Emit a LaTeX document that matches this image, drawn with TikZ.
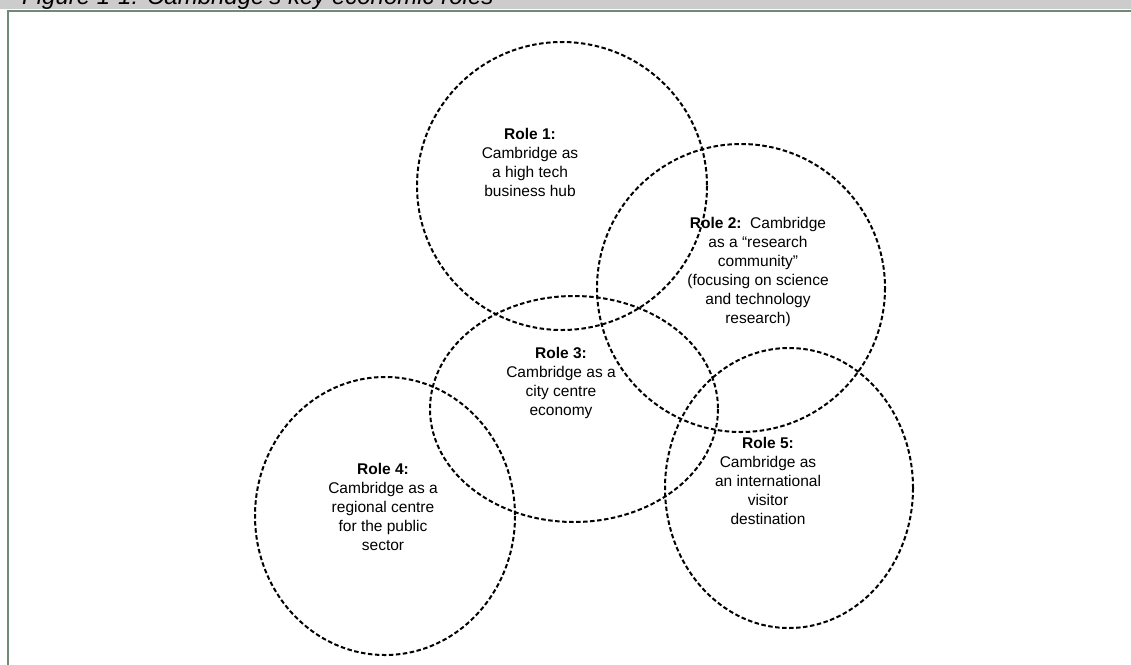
\documentclass[tikz,border=0pt]{standalone}
\usepackage{fontspec}
\setmainfont{Liberation Sans}
\tikzset{
  rolecirc/.style={draw=black,line width=2pt,dash pattern=on 4.5pt off 2.5pt},
  roletext/.style={align=center,font=\fontsize{15.5}{19}\selectfont},
}
\begin{document}
\begin{tikzpicture}[x=1pt,y=-1pt]
        \useasboundingbox (0,0) rectangle (1131,664);
        \clip (0,0) rectangle (1131,664);
        \fill[gray!40] (0,-20) rectangle (1131,8.5);
        \node[anchor=base west,inner sep=0pt,font=\fontsize{24}{28}\selectfont\itshape] (title) at (22,4) {Figure 1-1: Cambridge's key economic roles};
        \draw[color={rgb,255:red,111;green,138;blue,119},line width=2pt] (7.5,700) -- (7.5,11) -- (1140,11);
        \draw[rolecirc] (562,186) ellipse [x radius=145,y radius=144];
        \draw[rolecirc] (741,288) ellipse [x radius=144,y radius=144];
        \draw[rolecirc] (574,409) ellipse [x radius=144,y radius=113];
        \draw[rolecirc] (385,516) ellipse [x radius=130,y radius=139];
        \draw[rolecirc] (789,488) ellipse [x radius=124,y radius=140];
        \node[roletext] (role1) at (530,162) {\textbf{Role 1:}\\Cambridge as\\a high tech\\business hub};
        \node[roletext] (role2) at (758,272) {\textbf{Role 2:}\ \ Cambridge\\as a “research\\community”\\(focusing on science\\and technology\\research)};
        \node[roletext] (role3) at (561,383) {\textbf{Role 3:}\\Cambridge as a\\city centre\\economy};
        \node[roletext] (role4) at (383,507) {\textbf{Role 4:}\\Cambridge as a\\regional centre\\for the public\\sector};
        \node[roletext] (role5) at (768,481) {\textbf{Role 5:}\\Cambridge as\\an international\\visitor\\destination};
\end{tikzpicture}
\end{document}
